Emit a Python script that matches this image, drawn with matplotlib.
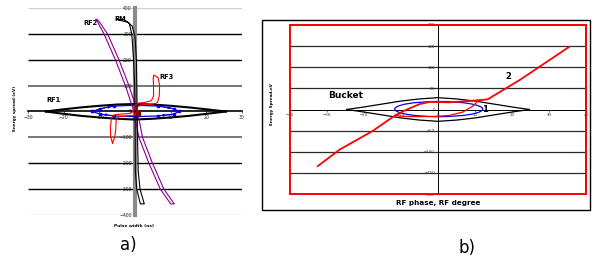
import matplotlib
matplotlib.use("Agg")
import matplotlib.pyplot as plt
from matplotlib.patches import Rectangle, Ellipse

plt.rcParams['font.family'] = ['DejaVu Sans']

# ---------------- data: panel a ----------------
a_xticks = [-30, -20, -10, 10, 20, 30]
a_yticks = [400, 300, 200, 100, 0, -100, -200, -300, -400]
a_grid_colors = {400: '#cfcfcf', 300: 'black', 200: 'black', 100: '#777777',
                 -100: '#777777', -200: 'black', -300: 'black', -400: '#cfcfcf'}

# RF1 bucket (separatrix) in panel a
rf1_x = [-25, -20, -15, -10, -5, 0, 5, 10, 15, 20, 25.5]
rf1_upper = [0, 8.5, 16, 22, 27, 29, 27, 22, 16, 8.5, 0]
rf1_lower = [0, -9, -17, -23, -28, -31, -28, -23, -17, -9, 0]

# blue initial distribution (closed) in panel a
blue_a_x = [-12, -9.7, -5.9, 0, 6.5, 10.9, 12.3, 10.9, 6.5, 0, -5.9, -9.7, -12]
blue_a_y = [0, 11, 21, 24, 21, 11, 0, -10, -17, -20, -17, -10, 0]

# RF2 (purple thin loop)
rf2_x = [-10.9, -8.7, -5.5, -2.7, -0.3, 1.1, 3.9, 7.1, 10.0, 11.0, 8.1, 4.9, 2.1, 0.7, -1.7, -4.5, -7.7, -10.3, -10.9]
rf2_y = [356, 300, 200, 100, 0, -100, -200, -300, -357, -357, -300, -200, -100, 0, 100, 200, 300, 352, 356]

# RM (black thin loop)
rm_x = [-5.2, -3.0, -1.6, -0.9, -0.4, -0.1, 0.0, 0.1, 0.5, 1.5, 2.6, 1.4, 0.9, 0.7, 0.6, 0.5, 0.4, 0.0, -0.8, -2.0, -3.2, -5.2]
rm_y = [356, 355, 340, 300, 200, 100, 0, -230, -300, -357, -357, -300, -230, -100, 0, 100, 200, 290, 330, 345, 349, 356]

# RF3 (red thin S-loop)
rf3_x = [-6.3, -6.8, -6.9, -6.6, -5.8, -4.0, -1.5, -0.4, -0.2, 0.8, 3.0, 4.6, 5.2, 5.2, 5.1, 5.3,
         6.5, 6.9, 6.8, 6.3, 5.0, 2.0, 0.8, 0.6, -0.2, -2.5, -4.6, -5.3, -5.4, -5.7, -6.3]
rf3_y = [-122, -100, -60, -25, -13, -10, -8, 0, 20, 32, 36, 42, 60, 100, 130, 141,
         130, 100, 60, 35, 28, 26, 20, 0, -14, -17, -20, -35, -70, -100, -122]

center_x = [0.8]
center_y = [-4]

# ---------------- data: panel b ----------------
b_xticks = [-40, -30, -20, -10, 0, 10, 20, 30, 40]
b_yticks = [200, 150, 100, 50, 0, -50, -100, -150, -200]

bucket_x = [-24.7, -20, -15, -10, -5, 0, 5, 10, 15, 20, 24.7]
bucket_upper = [0, 6, 13, 20, 25, 28, 25, 20, 13, 6, 0]
bucket_lower = [0, -6, -13, -20, -25, -28, -25, -20, -13, -6, 0]

ell_center = (0.2, 1.0)
ell_width = 23.8
ell_height = 36.0

red_main_x = [-32.5, -26.6, -17.7, -11.6, -8.4, -4.9, -2.2, 3.1, 8.4, 11.0, 13.4, 22.3, 35.4]
red_main_y = [-134, -95, -51, -14, 0, 13, 18, 17, 20, 22, 24, 71, 148]
red_loop_x = [-11.6, -10.0, -4.9, 0.0, 3.1, 6.7, 9.4, 11.0]
red_loop_y = [-14, -16, -17, -16, -14, -6, 8, 22]

# ---------------- figure ----------------
fig = plt.figure(figsize=(5.95, 2.62), dpi=100)

# ===== panel a =====
axa = fig.add_axes([28/595, 1-215/262, 214/595, 207/262])
axa.set_xlim(-30, 30)
axa.set_ylim(-400, 400)
for lev in a_yticks:
    if lev == 0:
        continue
    axa.hlines(lev, a_xticks[0], a_xticks[-1], colors=a_grid_colors[lev],
               lw=1.0 if a_grid_colors[lev] != '#777777' else 1.4, zorder=1)
for s in ['top', 'right']:
    axa.spines[s].set_visible(False)
axa.spines['left'].set_position('zero')
axa.spines['bottom'].set_position('zero')
axa.spines['left'].set_color('#8a8a8a')
axa.spines['left'].set_linewidth(3.0)
axa.spines['bottom'].set_color('black')
axa.spines['bottom'].set_linewidth(1.2)
axa.axvline(0, color='black', lw=0.7, zorder=2)
axa.set_xticks(a_xticks)
axa.set_yticks(a_yticks)
axa.tick_params(axis='both', labelsize=3.3, length=1.5, width=0.5, pad=0.8, colors='#222222')
axa.patch.set_alpha(0)

axa.plot(rf1_x, rf1_upper, color='black', lw=1.5, zorder=3)
axa.plot(rf1_x, rf1_lower, color='black', lw=1.5, zorder=3)
axa.plot(blue_a_x, blue_a_y, color='blue', lw=0.9, marker='s', ms=1.6, zorder=4)
for i in [1, 4, 7, 10]:
    axa.annotate('', xy=(blue_a_x[i+1], blue_a_y[i+1]), xytext=(blue_a_x[i], blue_a_y[i]),
                 arrowprops=dict(arrowstyle='-|>', color='blue', lw=0.6, mutation_scale=4), zorder=4)
axa.plot(rf2_x, rf2_y, color='#8b008b', lw=0.8, zorder=5)
axa.plot(rm_x, rm_y, color='black', lw=0.8, zorder=5)
axa.plot(rf3_x, rf3_y, color='red', lw=0.8, zorder=5)
axa.plot(center_x, center_y, marker='s', ms=2.5, color='#8b0000', lw=0, zorder=6)

axa.text(-12.4, 342, 'RF2', fontsize=4.8, fontweight='bold', ha='center', va='center')
axa.text(-4.0, 356, 'RM', fontsize=4.8, fontweight='bold', ha='center', va='center')
axa.text(8.8, 133, 'RF3', fontsize=4.8, fontweight='bold', ha='center', va='center')
axa.text(-22.9, 44, 'RF1', fontsize=4.8, fontweight='bold', ha='center', va='center')

fig.text(15/595, 1-108/262, 'Energy spread (eV)', rotation=90, fontsize=3.0,
         fontweight='bold', ha='center', va='center')
fig.text(134/595, 1-226/262, 'Pulse width (ns)', fontsize=3.2, fontweight='bold',
         ha='center', va='center')
fig.text(128/595, 1-245/262, 'a)', fontsize=12, ha='center', va='center')

# ===== panel b =====
fig.add_artist(Rectangle((262/595, 1-210/262), 328/595, 190/262, transform=fig.transFigure,
                         fill=False, ec='black', lw=1.0))
axb = fig.add_axes([290/595, 1-194/262, 296/595, 169/262])
axb.set_xlim(-40, 40)
axb.set_ylim(-200, 200)
for lev in b_yticks:
    if lev in (0, 200, -200):
        continue
    axb.hlines(lev, b_xticks[0], b_xticks[-1], colors='#2a2a2a', lw=0.9, zorder=1)
axb.spines['left'].set_position('zero')
axb.spines['bottom'].set_position('zero')
axb.spines['left'].set_color('black')
axb.spines['bottom'].set_color('black')
axb.spines['left'].set_linewidth(0.7)
axb.spines['bottom'].set_linewidth(0.7)
for s in ['top', 'right']:
    axb.spines[s].set_color('red')
    axb.spines[s].set_linewidth(1.2)
axb.add_patch(Rectangle((0, 0), 1, 1, transform=axb.transAxes, fill=False, ec='red', lw=1.4,
                        clip_on=False, zorder=6))
axb.set_xticks(b_xticks)
axb.set_yticks(b_yticks)
axb.tick_params(axis='both', labelsize=2.8, length=1.5, width=0.5, pad=0.8, colors='#333333')
axb.patch.set_alpha(0)

axb.plot(bucket_x, bucket_upper, color='black', lw=0.9, zorder=3)
axb.plot(bucket_x, bucket_lower, color='black', lw=0.9, zorder=3)
axb.add_patch(Ellipse(ell_center, ell_width, ell_height, fill=False, ec='blue', lw=0.9, zorder=4))
axb.plot(red_main_x, red_main_y, color='red', lw=1.3, zorder=5)
axb.plot(red_loop_x, red_loop_y, color='red', lw=0.9, zorder=5)

axb.text(-25.1, 34, 'Bucket', fontsize=6.5, fontweight='bold', ha='center', va='center')
axb.text(19.1, 79, '2', fontsize=6, fontweight='bold', ha='center', va='center')
axb.text(12.8, 0, '1', fontsize=6, fontweight='bold', ha='center', va='center')

fig.text(272/595, 1-104/262, 'Energy Spread,eV', rotation=90, fontsize=3.0,
         fontweight='bold', ha='center', va='center')
fig.text(438/595, 1-203/262, 'RF phase, RF degree', fontsize=5.2, fontweight='bold',
         ha='center', va='center')
fig.text(467/595, 1-248/262, 'b)', fontsize=12, ha='center', va='center')

fig.savefig('out.png', dpi=100)
